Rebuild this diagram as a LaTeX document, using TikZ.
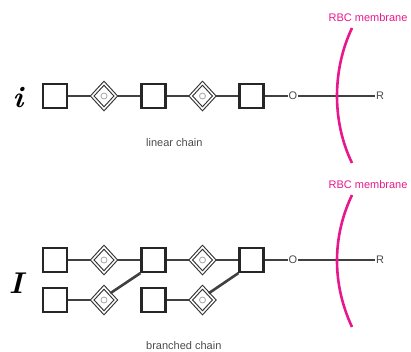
\documentclass[tikz,border=0pt]{standalone}
\usepackage{fontspec}
\setsansfont{Liberation Sans}
\usetikzlibrary{shapes.geometric,calc,positioning}
\definecolor{rbcpink}{RGB}{232,24,140}

\tikzset{
  sq/.style={draw=black!85, line width=2.2pt, minimum size=24pt, inner sep=0pt},
  dia/.style={diamond, draw=black!80, line width=1.1pt, double=white, double distance=1.5pt,
              minimum width=24pt, minimum height=26pt, inner sep=0pt},
  link/.style={draw=black!75, line width=2.6pt},
  memb/.style={draw=rbcpink, line width=2.6pt},
  lbl/.style={font=\sffamily\fontsize{11}{13}\selectfont, text=black!70, inner sep=1pt},
  pinklbl/.style={font=\sffamily\fontsize{11}{13}\selectfont, text=rbcpink, inner sep=0pt},
  big/.style={font=\fontsize{30}{34}\selectfont\bfseries\itshape, inner sep=0pt}
}

\begin{document}
\begin{tikzpicture}[x=1pt,y=-1pt]
\useasboundingbox (0,0) rectangle (411,351);

% linear chain
\foreach \n/\x in {1/55,2/153.5,3/251.5} { \node[sq] (s\n) at (\x,96) {}; }
\foreach \n/\x in {1/104,2/202.5} {
  \node[dia] (d\n) at (\x,96) {};
  \draw[gray!70, line width=0.8pt] (d\n) circle (3pt);
}
\node[lbl] (o1) at (293,96) {O};
\node[lbl] (r1) at (380,96) {R};
\draw[link] (s1) -- (d1) -- (s2) -- (d2) -- (s3) -- (o1);
\draw[link] (o1) -- (r1);
\draw[memb] (352,28) .. controls (332,70) and (332,122) .. (352,163);
\node[pinklbl] (m1) at (368,18) {RBC membrane};
\node[lbl, anchor=west] (c1) at (145,143) {linear chain};
\node[big, anchor=base] (i1) at (18,107) {i};

% branched chain
\foreach \n/\x in {1/55,2/153.5,3/251.5} { \node[sq] (t\n) at (\x,260) {}; }
\foreach \n/\x in {1/104,2/202.5} {
  \node[dia] (e\n) at (\x,260) {};
  \draw[gray!70, line width=0.8pt] (e\n) circle (3pt);
}
\foreach \n/\x in {1/55,2/153.5} { \node[sq] (b\n) at (\x,300) {}; }
\foreach \n/\x in {1/104,2/202.5} {
  \node[dia] (f\n) at (\x,300) {};
  \draw[gray!70, line width=0.8pt] (f\n) circle (3pt);
}
\node[lbl] (o2) at (293,260) {O};
\node[lbl] (r2) at (380,260) {R};
\draw[link] (t1) -- (e1) -- (t2) -- (e2) -- (t3) -- (o2);
\draw[link] (o2) -- (r2);
\draw[link] (b1) -- (f1);
\draw[link] (f1.north east) -- (t2.south west);
\draw[link] (b2) -- (f2);
\draw[link] (f2.north east) -- (t3.south west);
\draw[memb] (352,195) .. controls (332,237) and (332,284) .. (352,327);
\node[pinklbl] (m2) at (368,185) {RBC membrane};
\node[lbl, anchor=west] (c2) at (145,346) {branched chain};
\node[big, anchor=base] (i2) at (16,293) {I};
\end{tikzpicture}
\end{document}
